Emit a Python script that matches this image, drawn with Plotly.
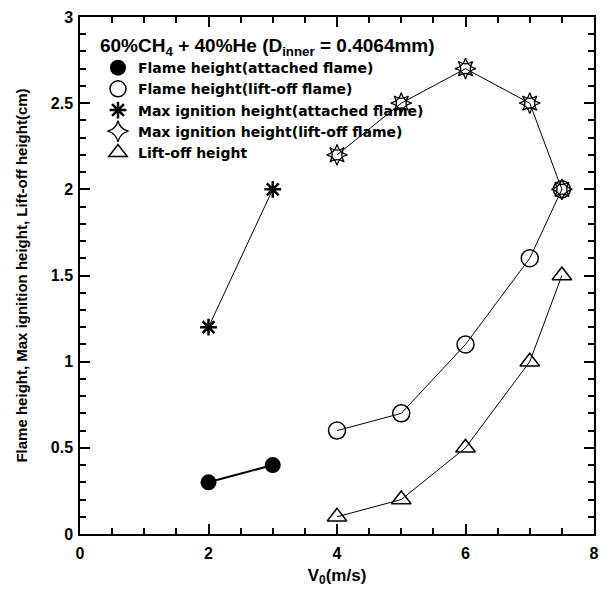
import plotly.graph_objects as go

# Data
fh_att_x = [2, 3]
fh_att_y = [0.3, 0.4]
fh_lift_x = [4, 5, 6, 7, 7.5]
fh_lift_y = [0.6, 0.7, 1.1, 1.6, 2.0]
mi_att_x = [2, 3]
mi_att_y = [1.2, 2.0]
mi_lift_x = [4, 5, 6, 7, 7.5]
mi_lift_y = [2.2, 2.5, 2.7, 2.5, 2.0]
lo_x = [4, 5, 6, 7, 7.5]
lo_y = [0.1, 0.2, 0.5, 1.0, 1.5]

names = ["Flame height(attached flame)", "Flame height(lift-off flame)",
         "Max ignition height(attached flame)", "Max ignition height(lift-off flame)",
         "Lift-off height"]

FONT = "Liberation Sans, Arial, sans-serif"
LFONT = "DejaVu Sans, Liberation Sans, sans-serif"
K = "black"

m_fh_att = dict(symbol="circle", size=16, color=K)
m_fh_lift = dict(symbol="circle-open", size=17, color=K, line=dict(width=1.5))
m_mi_att = dict(symbol="asterisk-open", size=14, color=K, line=dict(width=2.5))
m_mi_lift_a = dict(symbol="star-square-open", size=13, color=K, line=dict(width=1.3))
m_mi_lift_b = dict(symbol="star-diamond-open", size=15, color=K, line=dict(width=1.3))
m_lo = dict(symbol="triangle-up-open", size=17, color=K, line=dict(width=1.5))

fig = go.Figure()
# data traces (no legend)
fig.add_trace(go.Scatter(x=fh_att_x, y=fh_att_y, mode="lines+markers", showlegend=False,
                         line=dict(color=K, width=2), marker=m_fh_att))
fig.add_trace(go.Scatter(x=fh_lift_x, y=fh_lift_y, mode="lines+markers", showlegend=False,
                         line=dict(color=K, width=1), marker=m_fh_lift))
fig.add_trace(go.Scatter(x=mi_att_x, y=mi_att_y, mode="lines+markers", showlegend=False,
                         line=dict(color=K, width=1), marker=m_mi_att))
fig.add_trace(go.Scatter(x=mi_lift_x, y=mi_lift_y, mode="lines+markers", showlegend=False,
                         line=dict(color=K, width=1), marker=m_mi_lift_a))
fig.add_trace(go.Scatter(x=mi_lift_x, y=mi_lift_y, mode="markers", showlegend=False,
                         marker=m_mi_lift_b))
fig.add_trace(go.Scatter(x=lo_x, y=lo_y, mode="lines+markers", showlegend=False,
                         line=dict(color=K, width=1), marker=m_lo))

# legend-only entries (markers only)
leg_markers = [m_fh_att, m_fh_lift, m_mi_att, m_mi_lift_b, m_lo]
for nm, mk in zip(names, leg_markers):
    fig.add_trace(go.Scatter(x=[None], y=[None], mode="markers", name=nm, marker=dict(mk)))

axis_common = dict(showline=True, linecolor=K, linewidth=1.5, mirror="allticks",
                   ticks="inside", tickcolor=K, tickwidth=1.5, showgrid=False, zeroline=False,
                   tickfont=dict(family=FONT, size=16, color=K, weight="bold"))
fig.update_xaxes(range=[0, 8], dtick=2, ticklen=10, ticklabelstandoff=4,
                 minor=dict(dtick=0.5, ticks="inside", ticklen=6, tickcolor=K, tickwidth=1.5),
                 title=dict(text="V<sub>0</sub>(m/s)", font=dict(family=FONT, size=17, color=K, weight="bold"),
                            standoff=8),
                 **axis_common)
fig.update_yaxes(range=[0, 3], dtick=0.5, ticklen=10, ticklabelstandoff=2,
                 minor=dict(dtick=0.1, ticks="inside", ticklen=6, tickcolor=K, tickwidth=1.5),
                 title=dict(text="Flame height, Max ignition height, Lift-off height(cm)",
                            font=dict(family=FONT, size=15, color=K, weight="bold"), standoff=20),
                 **axis_common)
fig.update_layout(
    width=608, height=591,
    margin=dict(l=80, r=9, t=15, b=55),
    paper_bgcolor="white", plot_bgcolor="white",
    showlegend=True,
    legend=dict(x=0.035, y=0.98, xanchor="left", yanchor="top", bgcolor="rgba(0,0,0,0)",
                title=dict(text="60%CH<sub>4</sub> + 40%He (D<sub>inner</sub> = 0.4064mm)",
                           font=dict(family=FONT, size=19, color=K, weight="bold")),
                font=dict(family=LFONT, size=14, color=K, weight="bold"),
                tracegroupgap=0, itemwidth=30),
)
fig.write_html("out.html")
